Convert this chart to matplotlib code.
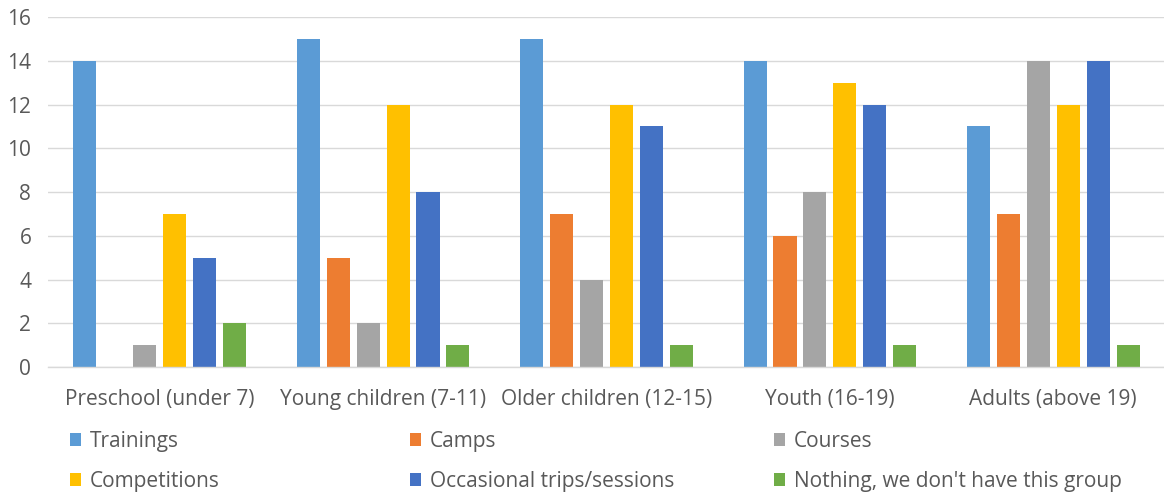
import matplotlib
matplotlib.use("Agg")
import matplotlib.pyplot as plt
from matplotlib.patches import Patch
import numpy as np

plt.rcParams['font.family'] = ['Open Sans', 'DejaVu Sans']

categories = ["Preschool (under 7)", "Young children (7-11)", "Older children (12-15)",
              "Youth (16-19)", "Adults (above 19)"]
series_names = ["Trainings", "Camps", "Courses", "Competitions",
                "Occasional trips/sessions", "Nothing, we don't have this group"]
trainings = [14, 15, 15, 14, 11]
camps = [0, 5, 7, 6, 7]
courses = [1, 2, 4, 8, 14]
competitions = [7, 12, 12, 13, 12]
occasional = [5, 8, 11, 12, 14]
nothing = [2, 1, 1, 1, 1]
yticks = [0, 2, 4, 6, 8, 10, 12, 14, 16]

series = [trainings, camps, courses, competitions, occasional, nothing]
colors = ["#5B9BD5", "#ED7D31", "#A5A5A5", "#FFC000", "#4472C4", "#70AD47"]
text_color = "#595959"

fig = plt.figure(figsize=(11.64, 4.93), dpi=100)
ax = fig.add_axes([48 / 1164, 1 - 367 / 493, 1117 / 1164, 350 / 493])

x = np.arange(len(categories))
step = 0.134
width = 0.103
for i, (vals, c) in enumerate(zip(series, colors)):
    ax.bar(x + (i - 2.5) * step, vals, width=width, color=c, zorder=3)

ax.set_xlim(-0.5, len(categories) - 0.5)
ax.set_ylim(0, 16)
ax.set_yticks(yticks)
ax.set_xticks(x)
ax.set_xticklabels(categories)
ax.grid(axis='y', color="#D9D9D9", linewidth=1, zorder=0)
for s in ["top", "left", "right"]:
    ax.spines[s].set_visible(False)
ax.spines["bottom"].set_color("#D9D9D9")
ax.spines["bottom"].set_linewidth(1)
ax.spines["bottom"].set_zorder(4)
ax.tick_params(axis='both', length=0, labelsize=15, colors=text_color)
ax.tick_params(axis='x', pad=16)
ax.tick_params(axis='y', pad=12)

# Legend: three columns, two rows, each column its own legend block
col_x = [70 / 1164, 410 / 1164, 774 / 1164]
columns = [(0, 3), (1, 4), (2, 5)]
for cx, (a, b) in zip(col_x, columns):
    handles = [Patch(facecolor=colors[a], edgecolor='none'),
               Patch(facecolor=colors[b], edgecolor='none')]
    leg = fig.legend(handles, [series_names[a], series_names[b]],
                     loc='upper left', bbox_to_anchor=(cx, 1 - 431 / 493),
                     frameon=False, fontsize=15, handlelength=0.55, handleheight=0.55,
                     handletextpad=0.4, labelspacing=0.9, borderpad=0, borderaxespad=0)
    for t in leg.get_texts():
        t.set_color(text_color)

fig.savefig("out.png", dpi=100)
